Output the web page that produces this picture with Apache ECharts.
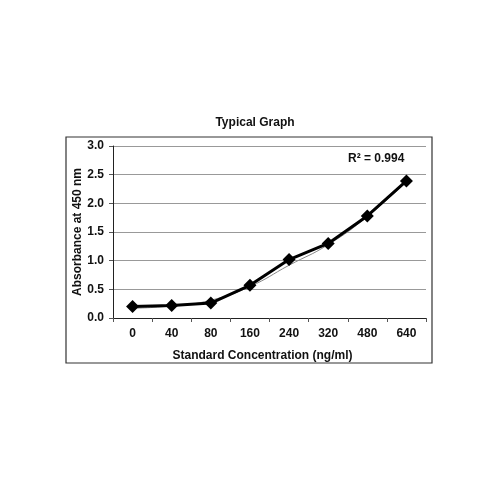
<!DOCTYPE html>
<html>
<head>
    <meta charset="utf-8">
    <title>Typical Graph</title>
    <script src="https://cdn.jsdelivr.net/npm/echarts@6/dist/echarts.min.js"></script>
    <style>
        html, body { margin: 0; padding: 0; background: #fff; }
    </style>
</head>
<body>
    <div id="main" style="width: 500px;height:500px;"></div>
    <script type="text/javascript">
        var concentrations = ['0', '40', '80', '160', '240', '320', '480', '640'];
        var absorbance = [0.20, 0.22, 0.26, 0.57, 1.02, 1.30, 1.78, 2.39];
        // thin trendline as it appears on the picture
        var trend = [0.17, 0.21, 0.31, 0.55, 0.92, 1.28, 1.77, 2.38];
        var yTicks = ['0.0', '0.5', '1.0', '1.5', '2.0', '2.5', '3.0'];

        var font = 'Liberation Sans, Arial, sans-serif';
        var myChart = echarts.init(document.getElementById('main'));

        myChart.setOption({
            animation: false,
            backgroundColor: '#fff',
            title: {
                text: 'Typical Graph',
                left: 250,
                top: 112,
                textAlign: 'center',
                textStyle: { fontFamily: font, fontSize: 12, fontWeight: 'bold', color: '#111' }
            },
            graphic: [{
                type: 'rect',
                shape: { x: 66, y: 137, width: 366, height: 226 },
                style: { fill: 'none', stroke: '#333', lineWidth: 1.2 },
                z: -1
            }, {
                type: 'text',
                left: 348,
                top: 153,
                style: {
                    text: 'R² = 0.994',
                    font: 'bold 12px ' + font,
                    fill: '#111'
                }
            }],
            grid: { left: 113, right: 74, top: 146, bottom: 182 },
            xAxis: {
                type: 'category',
                data: concentrations,
                name: 'Standard Concentration (ng/ml)',
                nameLocation: 'middle',
                nameGap: 32,
                nameMoveOverlap: false,
                nameTextStyle: {
                    fontFamily: font, fontSize: 12, fontWeight: 'bold', color: '#111',
                    padding: [0, 14, 0, 0]
                },
                axisLine: { lineStyle: { color: '#222', width: 1 } },
                axisTick: { show: true, length: 4, lineStyle: { color: '#555' } },
                axisLabel: { fontFamily: font, fontSize: 12, fontWeight: 'bold', color: '#111', margin: 10 }
            },
            yAxis: {
                type: 'value',
                min: 0,
                max: 3,
                interval: 0.5,
                name: 'Absorbance at 450 nm',
                nameLocation: 'middle',
                nameGap: 29,
                nameMoveOverlap: false,
                nameTextStyle: { fontFamily: font, fontSize: 12, fontWeight: 'bold', color: '#111' },
                axisLine: { show: true, lineStyle: { color: '#222', width: 1 } },
                axisTick: { show: true, length: 4, lineStyle: { color: '#555' } },
                axisLabel: {
                    fontFamily: font, fontSize: 12, fontWeight: 'bold', color: '#111', margin: 9,
                    formatter: function (v) { return yTicks[Math.round(v / 0.5)]; }
                },
                splitLine: { show: true, lineStyle: { color: '#999', width: 1 } }
            },
            series: [{
                    type: 'line',
                    data: trend,
                    smooth: true,
                    symbol: 'none',
                    lineStyle: { color: '#888', width: 1 },
                    z: 1
                }, {
                    type: 'line',
                    data: absorbance,
                    symbol: 'diamond',
                    symbolSize: 13,
                    itemStyle: { color: '#000' },
                    lineStyle: { color: '#000', width: 3 },
                    z: 2
                }
            ]
        });
    </script>
</body>
</html>
